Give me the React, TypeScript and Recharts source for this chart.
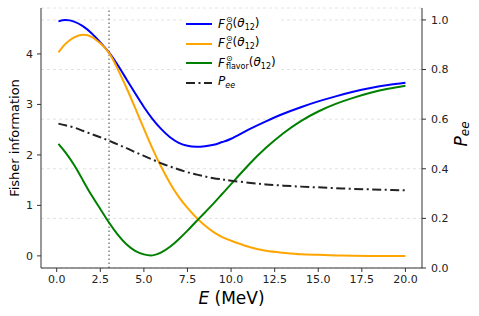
import React from "react";
import { CartesianGrid, Label, Line, LineChart, ReferenceLine, XAxis, YAxis } from "recharts";

// energy grid (MeV)
const energies = [
  0.1, 0.5, 1, 1.5, 2, 2.5, 3, 3.5, 4, 4.5, 5, 5.5, 6, 6.5, 7, 7.5, 8, 8.5, 9, 9.5, 10,
  11, 12, 13, 14, 15, 16, 17, 18, 19, 20,
];

const fQuantum = [
  4.645, 4.67, 4.64, 4.55, 4.41, 4.23, 4.03, 3.78, 3.5, 3.22, 2.95, 2.71, 2.51, 2.35, 2.24, 2.18, 2.16, 2.17, 2.2, 2.255, 2.32,
  2.5, 2.665, 2.815, 2.945, 3.06, 3.16, 3.25, 3.325, 3.385, 3.43,
];

const fClassical = [
  4.03, 4.2, 4.33, 4.38, 4.34, 4.21, 4.02, 3.7, 3.33, 2.93, 2.52, 2.12, 1.76, 1.44, 1.17, 0.95, 0.76, 0.6, 0.47, 0.37, 0.3,
  0.18, 0.1, 0.06, 0.03, 0.02, 0.01, 0.005, 0, 0, 0,
];

const fFlavor = [
  2.22, 2.05, 1.8, 1.5, 1.2, 0.93, 0.66, 0.42, 0.23, 0.1, 0.03, 0.01, 0.07, 0.18, 0.33, 0.5, 0.68, 0.86, 1.04, 1.23, 1.42,
  1.8, 2.14, 2.43, 2.67, 2.86, 3.01, 3.13, 3.23, 3.31, 3.37,
];

const pee = [
  0.582, 0.575, 0.566, 0.553, 0.54, 0.527, 0.513, 0.498, 0.483, 0.467, 0.452, 0.437, 0.422, 0.409, 0.397, 0.386, 0.377,
  0.369, 0.362, 0.357, 0.352, 0.344, 0.337, 0.332, 0.328, 0.325, 0.322, 0.319, 0.317, 0.315, 0.313,
];

const xTicks = [0, 2.5, 5, 7.5, 10, 12.5, 15, 17.5, 20];
const leftTicks = [0, 1, 2, 3, 4];
const rightTicks = [0, 0.2, 0.4, 0.6, 0.8, 1.0];
const markerEnergy = 3;

const data = energies.map((E, i) => ({
  E,
  fq: fQuantum[i],
  fc: fClassical[i],
  ff: fFlavor[i],
  pee: pee[i],
}));

const FONT = "'DejaVu Sans', sans-serif";
const AXIS = "#333";
const tickStyle = { fontSize: 11, fill: "#222", fontFamily: FONT };
const DASHDOT = "9 3.5 2 3.5";

const XTitle = ({ viewBox }: any) => {
  const cx = viewBox.x + viewBox.width / 2;
  return (
    <text x={cx} y={304} textAnchor="middle" fontSize={17} fill="#000" fontFamily={FONT}>
      <tspan fontStyle="italic">E</tspan> (MeV)
    </text>
  );
};

const LeftTitle = ({ viewBox }: any) => {
  const cy = viewBox.y + viewBox.height / 2;
  return (
    <text
      transform={`translate(14, ${cy}) rotate(-90)`}
      textAnchor="middle"
      dominantBaseline="central"
      fontSize={13}
      fill="#000"
      fontFamily={FONT}
    >
      Fisher information
    </text>
  );
};

const RightTitle = ({ viewBox }: any) => {
  const cy = viewBox.y + viewBox.height / 2;
  return (
    <text
      transform={`translate(461, ${cy - 4}) rotate(-90)`}
      textAnchor="middle"
      dominantBaseline="central"
      fontSize={17}
      fill="#000"
      fontFamily={FONT}
    >
      <tspan fontStyle="italic">P</tspan>
      <tspan fontStyle="italic" fontSize={12} dy={4}>ee</tspan>
    </text>
  );
};

function FSym({ sub, italicSub = true }: { sub: string; italicSub?: boolean }) {
  return (
    <span style={{ display: "inline-flex", alignItems: "center" }}>
      <span style={{ fontStyle: "italic" }}>F</span>
      <span
        style={{
          display: "inline-flex",
          flexDirection: "column",
          fontSize: 8,
          lineHeight: "8px",
          marginLeft: 1,
        }}
      >
        <span>⊙</span>
        <span style={{ fontStyle: italicSub ? "italic" : "normal" }}>{sub}</span>
      </span>
      <span>
        (<i>θ</i>
        <sub style={{ fontSize: 8 }}>12</sub>)
      </span>
    </span>
  );
}

const legendRows = [
  { color: "#0000ff", dash: undefined, label: <FSym sub="Q" />, y: 24 },
  { color: "#ffa500", dash: undefined, label: <FSym sub="C" />, y: 43.5 },
  { color: "#008000", dash: undefined, label: <FSym sub="flavor" italicSub={false} />, y: 63 },
  {
    color: "#222",
    dash: DASHDOT,
    label: (
      <span>
        <i>P</i>
        <sub style={{ fontSize: 8 }}>
          <i>ee</i>
        </sub>
      </span>
    ),
    y: 82.5,
  },
];

function ChartLegend() {
  return (
    <>
      <div
        style={{
          position: "absolute",
          left: 183,
          top: 12,
          width: 97,
          height: 82,
          background: "rgba(255,255,255,0.85)",
        }}
      />
      {legendRows.map((r, i) => (
        <div
          key={i}
          style={{
            position: "absolute",
            left: 186,
            top: r.y - 9,
            height: 18,
            display: "flex",
            alignItems: "center",
            fontFamily: FONT,
            fontSize: 12,
            color: "#000",
            whiteSpace: "nowrap",
          }}
        >
          <svg width={26} height={4} style={{ marginRight: 6 }}>
            <line x1={0} y1={2} x2={26} y2={2} stroke={r.color} strokeWidth={2} strokeDasharray={r.dash} />
          </svg>
          {r.label}
        </div>
      ))}
    </>
  );
}

export default function App() {
  return (
    <div style={{ position: "absolute", left: 0, top: 0, width: 479, height: 316, background: "#fff" }}>
      <LineChart width={479} height={316} data={data} margin={{ top: 8, right: 0, bottom: 0, left: 0 }}>
        <CartesianGrid
          xAxisId="b"
          yAxisId="r"
          vertical={false}
          stroke="#e2e2e2"
          strokeDasharray="3 3"
        />
        <XAxis
          xAxisId="b"
          dataKey="E"
          type="number"
          domain={[-0.9, 20.95]}
          ticks={xTicks}
          allowDataOverflow
          tickFormatter={(v: number) => v.toFixed(1)}
          height={48}
          tick={tickStyle}
          tickSize={4}
          tickMargin={3}
          tickLine={{ stroke: AXIS }}
          axisLine={{ stroke: AXIS }}
        >
          <Label content={XTitle} />
        </XAxis>
        <XAxis
          xAxisId="t"
          orientation="top"
          dataKey="E"
          type="number"
          domain={[-0.9, 20.95]}
          height={0}
          tick={false}
          tickLine={false}
          axisLine={{ stroke: AXIS }}
        />
        <YAxis
          yAxisId="l"
          domain={[-0.24, 4.91]}
          ticks={leftTicks}
          allowDataOverflow
          width={41}
          tick={tickStyle}
          tickSize={4}
          tickMargin={4}
          tickLine={{ stroke: AXIS }}
          axisLine={{ stroke: AXIS }}
        >
          <Label content={LeftTitle} />
        </YAxis>
        <YAxis
          yAxisId="r"
          orientation="right"
          domain={[0, 1.048]}
          ticks={rightTicks}
          allowDataOverflow
          tickFormatter={(v: number) => v.toFixed(1)}
          width={57}
          tick={tickStyle}
          tickSize={4}
          tickMargin={5}
          tickLine={{ stroke: AXIS }}
          axisLine={{ stroke: AXIS }}
        >
          <Label content={RightTitle} />
        </YAxis>
        <ReferenceLine
          xAxisId="b"
          yAxisId="l"
          x={markerEnergy}
          stroke="#808080"
          strokeWidth={1.5}
          strokeDasharray="1.5 2.5"
        />
        <Line xAxisId="b" yAxisId="l" type="natural" dataKey="fq" stroke="#0000ff" strokeWidth={2} dot={false} isAnimationActive={false} />
        <Line xAxisId="b" yAxisId="l" type="natural" dataKey="fc" stroke="#ffa500" strokeWidth={2} dot={false} isAnimationActive={false} />
        <Line xAxisId="b" yAxisId="l" type="natural" dataKey="ff" stroke="#008000" strokeWidth={2} dot={false} isAnimationActive={false} />
        <Line
          xAxisId="b"
          yAxisId="r"
          type="natural"
          dataKey="pee"
          stroke="#222"
          strokeWidth={2}
          strokeDasharray={DASHDOT}
          dot={false}
          isAnimationActive={false}
        />
      </LineChart>
      <ChartLegend />
    </div>
  );
}
